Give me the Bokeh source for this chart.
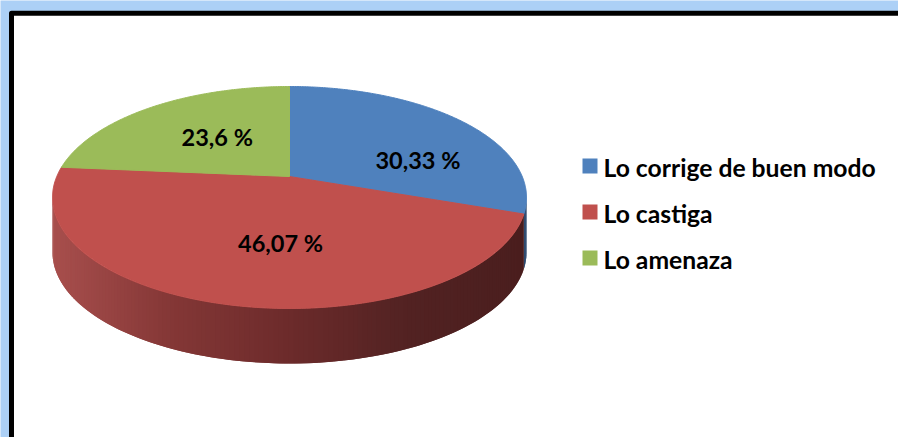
import numpy as np
from bokeh.plotting import figure
from bokeh.models import Range1d
from bokeh.core.properties import value
from bokeh.embed import file_html
from bokeh.resources import INLINE

# ---------------- data ----------------
categories = ["Lo corrige de buen modo", "Lo castiga", "Lo amenaza"]
percentages = [30.33, 46.07, 23.6]
label_texts = ["30,33 %", "46,07 %", "23,6 %"]

# ---------------- style ----------------
colors = ["#4f81bd", "#c0504d", "#9bbb59"]
side_dark = [(44, 72, 110), None, (95, 116, 52)]   # None -> red gradient
FONT = "Lato"

W, H = 898, 437
CX, CY, RX, RY, DEPTH = 289.0, 197.0, 237.0, 111.0, 55.0
V = 0.189   # perspective shift of pie centre toward the back

label_r = 0.55
label_dx = [30, 21, 8]
label_dy = [16, 2, 1]


def project(x, y):
    d = 1.0 + V * y
    xp = x * np.sqrt(1.0 - V * V) / d
    yp = (y + V) / d
    return CX + RX * xp, CY - RY * yp


def red_side_color(xn):
    stops = [-1.0, -0.5, 0.0, 0.5, 1.0]
    r = np.interp(xn, stops, [168, 132, 108, 82, 74])
    g = np.interp(xn, stops, [79, 55, 43, 34, 30])
    b = np.interp(xn, stops, [77, 54, 43, 34, 30])
    return "#%02x%02x%02x" % (int(round(r)), int(round(g)), int(round(b)))


p = figure(width=W, height=H, output_backend="svg", toolbar_location=None,
           x_range=Range1d(0, W), y_range=Range1d(H, 0),
           min_border=0, outline_line_color=None,
           background_fill_color="#acd0f6", border_fill_color="#acd0f6")
p.axis.visible = False
p.grid.visible = False

# white chart area with thick black frame
p.quad(left=[11], right=[940], top=[12.8], bottom=[480], fill_color="white",
       line_color="black", line_width=5, line_join="round")

# slice angles (start at 12 o'clock, clockwise)
bounds = []
start = 90.0
for pct in percentages:
    a0 = start
    a1 = start - pct * 3.6
    bounds.append((a0, a1))
    start = a1

# ---------------- sides ----------------
sx, sy, sc = [], [], []
for i, (a0, a1) in enumerate(bounds):
    n = int(np.ceil(abs(a0 - a1) / 1.0))
    th = np.radians(np.linspace(a0, a1, n + 1))
    px, py = project(np.cos(th), np.sin(th))
    for k in range(n):
        ym = 0.5 * (py[k] + py[k + 1])
        if ym < CY:   # back half: hidden
            continue
        k2 = min(k + 2, n)
        xs = [px[k], px[k2], px[k2], px[k]]
        ys = [py[k], py[k2], py[k2] + DEPTH, py[k] + DEPTH]
        xn = (0.5 * (px[k] + px[k + 1]) - CX) / RX
        if side_dark[i] is None:
            c = red_side_color(xn)
        else:
            c = "#%02x%02x%02x" % side_dark[i]
        sx.append(xs)
        sy.append(ys)
        sc.append(c)
p.patches(xs=sx, ys=sy, fill_color=sc, line_color=None)

# ---------------- top faces ----------------
tx, ty = [], []
apx, apy = project(0.0, 0.0)
for (a0, a1) in bounds:
    n = int(np.ceil(abs(a0 - a1) / 0.5))
    th = np.radians(np.linspace(a0, a1, n + 1))
    px, py = project(np.cos(th), np.sin(th))
    tx.append([apx] + list(px))
    ty.append([apy] + list(py))
p.patches(xs=tx, ys=ty, fill_color=colors, line_color=colors, line_width=1)

# ---------------- data labels ----------------
lx, ly = [], []
for i, (a0, a1) in enumerate(bounds):
    m = np.radians(0.5 * (a0 + a1))
    x, y = project(label_r * np.cos(m), label_r * np.sin(m))
    lx.append(x + label_dx[i])
    ly.append(y + label_dy[i])
p.text(x=lx, y=ly, text=label_texts, text_font=value(FONT), text_font_style="bold",
       text_font_size="23.5px", text_color="black", text_align="center",
       text_baseline="middle")

# ---------------- legend ----------------
LEG_X, LEG_Y, LEG_STEP, SQ = 589.5, 165.5, 46.0, 15
leg_y = [LEG_Y + i * LEG_STEP for i in range(len(categories))]
p.rect(x=[LEG_X] * len(categories), y=leg_y, width=SQ, height=SQ,
       fill_color=colors, line_color=None)
p.text(x=[LEG_X + 13.5] * len(categories), y=[v + 1 for v in leg_y], text=categories,
       text_font=value(FONT), text_font_style="bold", text_font_size="24.7px",
       text_color="black", text_align="left", text_baseline="middle")

open("out.html", "w").write(file_html(p, INLINE))
